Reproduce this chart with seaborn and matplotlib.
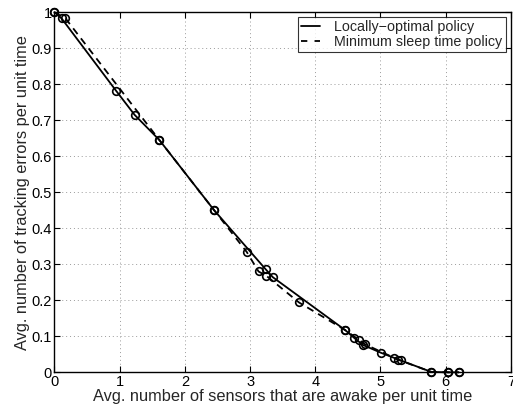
import numpy as np
import pandas as pd
import matplotlib
matplotlib.use("Agg")
import matplotlib.pyplot as plt
from matplotlib.lines import Line2D
import seaborn as sns

# Werte
x_opt = [0.0, 0.11, 0.95, 1.23, 1.61, 2.45, 3.24, 3.35, 4.46, 4.60, 4.73, 5.01, 5.21, 5.31, 5.78, 6.04, 6.20]
y_opt = [1.0, 0.983, 0.781, 0.715, 0.645, 0.450, 0.286, 0.264, 0.117, 0.095, 0.076, 0.054, 0.040, 0.033, 0.001, 0.0, 0.0]

x_min = [0.0, 0.17, 1.61, 2.45, 2.95, 3.13, 3.25, 3.75, 4.46, 4.67, 4.76, 5.27, 5.78, 6.04, 6.20]
y_min = [1.0, 0.983, 0.645, 0.450, 0.334, 0.280, 0.268, 0.194, 0.117, 0.090, 0.078, 0.035, 0.001, 0.0, 0.0]

labels = ["Locally\u2212optimal policy", "Minimum sleep time policy"]

sns.set_style("white")
plt.rcParams["font.family"] = ["Liberation Sans", "DejaVu Sans"]

fig = plt.figure(figsize=(5.13, 4.08), dpi=100)
ax = fig.add_axes([0.106, 0.0875, 0.89, 0.8825])

df_opt = pd.DataFrame({"x": x_opt, "y": y_opt})
df_min = pd.DataFrame({"x": x_min, "y": y_min})

sns.lineplot(data=df_min, x="x", y="y", ax=ax, color="black", lw=1.3,
             estimator=None, sort=False, dashes=False, linestyle=(0, (4, 3)),
             marker="o", markersize=5.5, markerfacecolor="none", markeredgecolor="black",
             markeredgewidth=1.2, clip_on=False, zorder=3)
sns.lineplot(data=df_opt, x="x", y="y", ax=ax, color="black", lw=1.3,
             estimator=None, sort=False,
             marker="o", markersize=5.5, markerfacecolor="none", markeredgecolor="black",
             markeredgewidth=1.2, clip_on=False, zorder=4)

ax.set_xlim(0, 7)
ax.set_ylim(0, 1)
ax.set_xticks(range(8))
ax.set_yticks(np.arange(0, 1.01, 0.1))
ax.set_yticklabels(["0", "0.1", "0.2", "0.3", "0.4", "0.5", "0.6", "0.7", "0.8", "0.9", "1"])
ax.grid(True, color="#9a9a9a", linestyle=(0, (1, 3)), linewidth=0.7)
for s in ax.spines.values():
    s.set_color("black")
    s.set_linewidth(1.0)
ax.tick_params(direction="in", length=4, width=0.8, labelsize=10.5, pad=2,
               top=True, right=True, bottom=True, left=True, colors="black")

ax.set_xlabel("Avg. number of sensors that are awake per unit time", fontsize=11.8, labelpad=0)
ax.set_ylabel("Avg. number of tracking errors per unit time", fontsize=11.8, labelpad=1)

handles = [Line2D([], [], color="black", lw=1.3),
           Line2D([], [], color="black", lw=1.3, linestyle=(0, (3.5, 4)))]
leg = ax.legend(handles, labels, loc="upper right", fontsize=10.3, frameon=True, fancybox=False,
                bbox_to_anchor=(0.989, 0.988), borderaxespad=0, handlelength=1.3,
                borderpad=0.25, labelspacing=0.05, handletextpad=1.0)
leg.get_frame().set_edgecolor("black")
leg.get_frame().set_linewidth(0.8)

fig.savefig("out.png", dpi=100)
